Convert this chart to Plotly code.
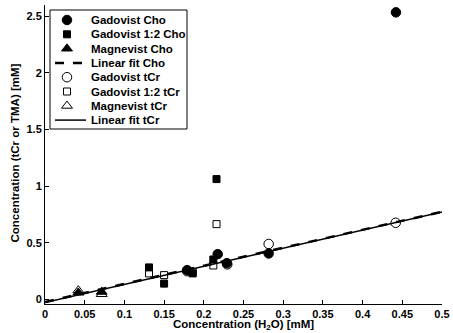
import plotly.graph_objects as go

# Data
gad_cho_x = [0.442, 0.2175, 0.179, 0.229, 0.2817]
gad_cho_y = [2.535, 0.40, 0.259, 0.32, 0.406]

gad12_cho_x = [0.131, 0.150, 0.186, 0.212, 0.216]
gad12_cho_y = [0.283, 0.14, 0.23, 0.353, 1.063]

mag_cho_x = [0.042, 0.0714]
mag_cho_y = [0.06, 0.067]

gad_tcr_x = [0.4417, 0.2817, 0.2296, 0.179]
gad_tcr_y = [0.677, 0.49, 0.31, 0.25]

gad12_tcr_x = [0.131, 0.150, 0.186, 0.212, 0.216]
gad12_tcr_y = [0.23, 0.215, 0.24, 0.30, 0.665]

mag_tcr_x = [0.042, 0.0714]
mag_tcr_y = [0.08, 0.047]

fit_x = [0.0, 0.5]
fit_cho_y = [-0.022, 0.775]
fit_tcr_y = [-0.026, 0.772]

x_ticks = [0, 0.05, 0.1, 0.15, 0.2, 0.25, 0.3, 0.35, 0.4, 0.45, 0.5]
x_tick_labels = ["0", "0.05", "0.1", "0.15", "0.2", "0.25", "0.3", "0.35", "0.4", "0.45", "0.5"]
y_ticks = [0, 0.5, 1, 1.5, 2, 2.5]
y_tick_labels = ["0", "0.5", "1", "1.5", "2", "2.5"]

series_names = ["Gadovist Cho", "Gadovist 1:2 Cho", "Magnevist Cho", "Linear fit Cho",
                "Gadovist tCr", "Gadovist 1:2 tCr", "Magnevist tCr", "Linear fit tCr"]

FONT = "Liberation Sans, Arial, sans-serif"
blk = "black"

W, H = 453, 333
ML, MR, MT, MB = 45, 11, 5, 29

fig = go.Figure()

# marker styles per series (symbol, size) ; None -> line
styles = [("circle", 9.5), ("square", 7), ("triangle-up", 9.5), None,
          ("circle-open", 9.5), ("square-open", 7), ("triangle-up-open", 9.5), None]
line_styles = {3: dict(color=blk, width=2.5, dash="dash"), 7: dict(color=blk, width=1.5)}

data = [(gad_cho_x, gad_cho_y), (gad12_cho_x, gad12_cho_y), (mag_cho_x, mag_cho_y),
        (fit_x, fit_cho_y), (gad_tcr_x, gad_tcr_y), (gad12_tcr_x, gad12_tcr_y),
        (mag_tcr_x, mag_tcr_y), (fit_x, fit_tcr_y)]

for i, (name, (xs, ys)) in enumerate(zip(series_names, data)):
    st = styles[i]
    if st is None:
        fig.add_trace(go.Scatter(x=xs, y=ys, mode="lines", name=name,
                                 line=line_styles[i], showlegend=False))
    else:
        fig.add_trace(go.Scatter(x=xs, y=ys, mode="markers", name=name, showlegend=False,
                                 marker=dict(symbol=st[0], size=st[1], color=blk,
                                             line=dict(color=blk, width=1))))

# ---- Custom legend drawn on a pixel-coordinate overlay axis ----
leg_left, leg_right, leg_top, leg_bottom = 50, 187, 10, 129
row_y0, row_dy = 20, 14.3
mark_x, text_x = 67, 89
line_x0, line_x1 = 55, 86

fig.add_shape(type="rect", xref="x2", yref="y2",
              x0=leg_left, x1=leg_right, y0=leg_top, y1=leg_bottom,
              line=dict(color=blk, width=1), fillcolor="white", layer="below")

for i, name in enumerate(series_names):
    ry = row_y0 + i * row_dy
    st = styles[i]
    if st is None:
        fig.add_trace(go.Scatter(x=[line_x0, line_x1], y=[ry, ry], mode="lines",
                                 xaxis="x2", yaxis="y2", showlegend=False, hoverinfo="skip",
                                 line=line_styles[i]))
    else:
        fig.add_trace(go.Scatter(x=[mark_x], y=[ry], mode="markers",
                                 xaxis="x2", yaxis="y2", showlegend=False, hoverinfo="skip",
                                 marker=dict(symbol=st[0], size=st[1], color=blk,
                                             line=dict(color=blk, width=1))))
    fig.add_annotation(x=text_x, y=ry, xref="x2", yref="y2", text=name,
                       showarrow=False, xanchor="left", yanchor="middle",
                       font=dict(family=FONT, size=11.5, color=blk, weight="bold"))

tickfont = dict(family=FONT, size=11, color=blk, weight="bold")
pw = W - ML - MR
ph = H - MT - MB

fig.update_layout(
    width=W, height=H,
    margin=dict(l=ML, r=MR, t=MT, b=MB, autoexpand=False),
    paper_bgcolor="white", plot_bgcolor="white",
    font=dict(family=FONT, color=blk),
    showlegend=False,
    hovermode=False,
    xaxis=dict(
        range=[0, 0.5], tickvals=x_ticks, ticktext=x_tick_labels, automargin=False,
        showgrid=False, zeroline=False, showline=True, linecolor=blk, linewidth=1,
        ticks="inside", ticklen=4, tickcolor=blk, tickfont=tickfont,
    ),
    yaxis=dict(
        range=[-0.04, 2.6], tickvals=y_ticks, ticktext=y_tick_labels, automargin=False,
        showgrid=False, zeroline=False, showline=True, linecolor=blk, linewidth=1,
        ticks="inside", ticklen=4, tickcolor=blk, tickfont=tickfont,
    ),
    xaxis2=dict(range=[ML, W - MR], overlaying="x", visible=False, fixedrange=True),
    yaxis2=dict(range=[H - MB, MT], overlaying="y", visible=False, fixedrange=True),
)

# axis titles
fig.add_annotation(x=(243 - ML) / pw, y=(H - MB - 325) / ph, xref="paper", yref="paper",
                   text="Concentration (H<sub>2</sub>O) [mM]", showarrow=False,
                   xanchor="center", yanchor="middle",
                   font=dict(family=FONT, size=11.5, color=blk, weight="bold"))
fig.add_annotation(x=(14.5 - ML) / pw, y=(H - MB - 153) / ph, xref="paper", yref="paper",
                   text="Concentration (tCr or TMA) [mM]", showarrow=False, textangle=-90,
                   xanchor="center", yanchor="middle",
                   font=dict(family=FONT, size=11.5, color=blk, weight="bold"))

fig.write_html("out.html", config={"displayModeBar": False},
               post_script="document.body.style.margin='0px';document.body.style.overflow='hidden';")
